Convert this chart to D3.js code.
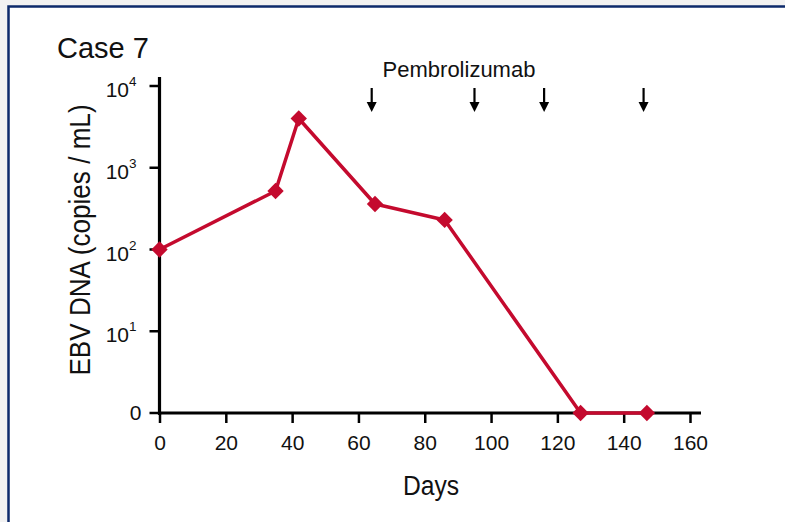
<!DOCTYPE html>
<html>
<head>
<meta charset="utf-8">
<script src="https://cdn.jsdelivr.net/npm/d3@7/dist/d3.min.js"></script>
<style>
  html, body { margin: 0; padding: 0; background: #f2f2f2; }
  svg { display: block; }
  text { font-family: "Liberation Sans", Arial, Helvetica, sans-serif; fill: #111; }
</style>
</head>
<body>
<svg id="chart" width="785" height="522"></svg>
<script>
// EBV DNA load over time, case 7
const days = [0, 35, 42, 65, 86, 127, 147];
const ebvCopies = [100, 520, 4000, 360, 230, 0, 0];
const doseDays = [64, 95, 116, 146];
const xTicks = [0, 20, 40, 60, 80, 100, 120, 140, 160];
const yTickExps = [0, 1, 2, 3, 4];

const svg = d3.select("#chart");

// panel frame
svg.append("rect")
  .attr("x", 8.5).attr("y", 6.5)
  .attr("width", 800).attr("height", 540)
  .attr("fill", "#fff")
  .attr("stroke", "#0d2a6b").attr("stroke-width", 2.5);

const x = d3.scaleLinear().domain([0, 160]).range([159.5, 690]);
const yLog = d3.scaleLog().domain([1, 10000]).range([413, 86]);
const y = v => yLog(Math.max(v, 1)); // zero values sit on the baseline

const axisColor = "#000";

// y axis
svg.append("line")
  .attr("x1", x(0)).attr("x2", x(0))
  .attr("y1", 77).attr("y2", 415)
  .attr("stroke", axisColor).attr("stroke-width", 3.2);

const yt = svg.append("g");
yTickExps.forEach(e => {
  const yy = yLog(Math.pow(10, e));
  yt.append("line")
    .attr("x1", x(0) - 10).attr("x2", x(0))
    .attr("y1", yy).attr("y2", yy)
    .attr("stroke", axisColor).attr("stroke-width", 2.5);
  const t = yt.append("text")
    .attr("text-anchor", "end")
    .attr("font-size", 21);
  if (e === 0) {
    t.attr("x", x(0) - 18).attr("y", yy + 7).text("0");
  } else {
    t.attr("x", x(0) - 23).attr("y", yy + 11);
    t.append("tspan").text("10");
    t.append("tspan").attr("dy", -11).attr("font-size", 13.5).text(e);
  }
});

// x axis
svg.append("line")
  .attr("x1", x(0) - 1.5).attr("x2", 701)
  .attr("y1", 413).attr("y2", 413)
  .attr("stroke", axisColor).attr("stroke-width", 3.2);

const xAxis = d3.axisBottom(x).tickValues(xTicks).tickSize(10).tickPadding(12).tickSizeOuter(0);
const gx = svg.append("g").attr("transform", "translate(0,413)").call(xAxis);
gx.select(".domain").remove();
gx.selectAll(".tick line").attr("stroke", axisColor).attr("stroke-width", 2.5);
gx.selectAll(".tick text")
  .attr("font-size", 21)
  .attr("font-family", "\"Liberation Sans\", Arial, sans-serif")
  .attr("fill", "#111");

// series line
const pts = days.map((d, i) => [x(d), y(ebvCopies[i])]);
svg.append("path")
  .attr("d", d3.line()(pts))
  .attr("fill", "none")
  .attr("stroke", "#c40a2e")
  .attr("stroke-width", 3.5)
  .attr("stroke-linejoin", "round");

svg.selectAll(".marker")
  .data(pts)
  .enter().append("path")
  .attr("class", "marker")
  .attr("transform", d => `translate(${d[0]},${d[1]})`)
  .attr("d", d3.symbol().type(d3.symbolDiamond2).size(170))
  .attr("fill", "#c40a2e");

// dosing arrows
const arrows = svg.append("g");
doseDays.forEach(d => {
  const ax = x(d);
  arrows.append("line")
    .attr("x1", ax).attr("x2", ax)
    .attr("y1", 88).attr("y2", 106)
    .attr("stroke", "#000").attr("stroke-width", 2.2);
  arrows.append("path")
    .attr("d", `M${ax - 5},${102} L${ax + 5},${102} L${ax},${112} Z`)
    .attr("fill", "#000");
});

svg.append("text")
  .attr("x", 459).attr("y", 77)
  .attr("text-anchor", "middle")
  .attr("font-size", 22)
  .text("Pembrolizumab");

// title
svg.append("text")
  .attr("x", 57).attr("y", 58)
  .attr("font-size", 29)
  .text("Case 7");

// axis titles
svg.append("text")
  .attr("transform", "translate(90,240) rotate(-90) scale(0.9,1)")
  .attr("text-anchor", "middle")
  .attr("font-size", 29)
  .text("EBV DNA (copies / mL)");

svg.append("text")
  .attr("transform", "translate(431,495) scale(0.88,1)")
  .attr("text-anchor", "middle")
  .attr("font-size", 28)
  .text("Days");
</script>
</body>
</html>
